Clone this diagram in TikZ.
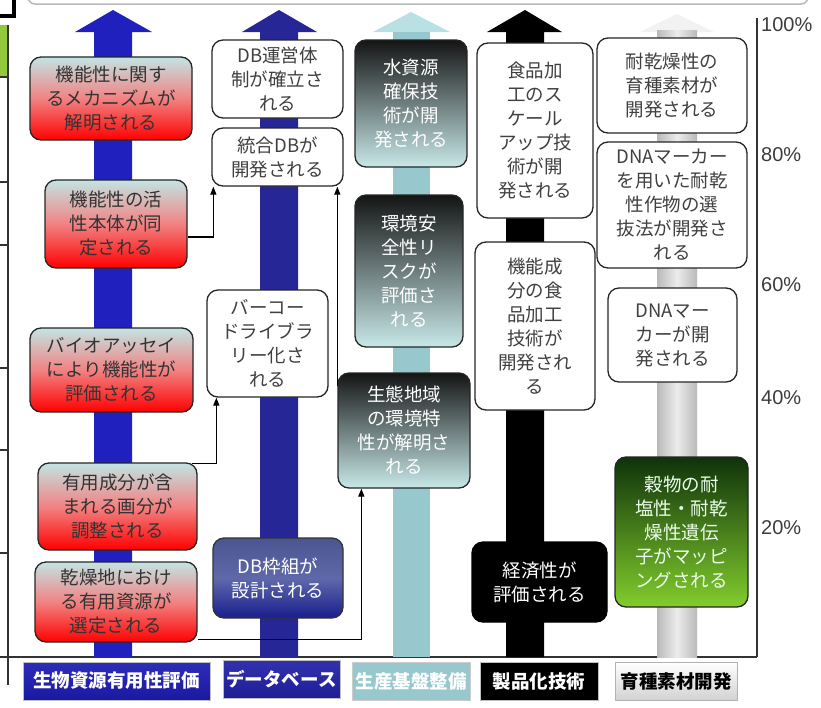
\documentclass[tikz,border=0pt]{standalone}
\usepackage{fontspec}
\newfontfamily\jp{Noto Sans CJK JP}
\newfontfamily\lsans{Liberation Sans}
\usetikzlibrary{arrows.meta}
\definecolor{bioblue}{RGB}{32,32,190}
\definecolor{dbnavy}{RGB}{38,38,150}
\definecolor{teal1}{RGB}{150,200,205}
\definecolor{tealhead}{RGB}{185,225,228}
\definecolor{lightcy}{RGB}{200,232,232}
\definecolor{redtop}{RGB}{195,228,228}
\definecolor{redmid}{RGB}{242,130,130}
\definecolor{greentop}{RGB}{15,50,10}
\definecolor{greenbot}{RGB}{130,205,45}
\definecolor{leftgreen}{RGB}{145,200,60}
\definecolor{pctgray}{RGB}{60,60,60}
\begin{document}
\begin{tikzpicture}[x=1pt,y=-1pt,
  basebox/.style={rounded corners=11pt, line width=1.3pt, align=center, inner sep=1pt,
    font=\jp\fontsize{18.5}{24}\selectfont},
  redbox/.style={basebox, draw=black!85, top color=redtop, bottom color=red, middle color=redmid, text=black!80},
  whitebox/.style={basebox, draw=black!85, fill=white, text=black!75},
  tealbox/.style={basebox, draw=black!85, top color=black!92, bottom color=lightcy, text=white},
  navybox/.style={basebox, draw=black!80, top color={rgb,255:red,75;green,85;blue,145}, bottom color={rgb,255:red,25;green,30;blue,140}, middle color={rgb,255:red,95;green,105;blue,170}, text=white},
  blackbox/.style={basebox, draw=black, fill=black, text=white},
  greenbox/.style={basebox, draw=black!85, top color=greentop, bottom color=greenbot, text=white!92!green},
  label/.style={align=center, inner sep=0pt, minimum height=38, font=\jp\bfseries\fontsize{18.5}{20}\selectfont},
  pct/.style={anchor=west, inner sep=0pt, text=pctgray, font=\lsans\fontsize{20}{22}\selectfont},
  conn/.style={draw=black, line width=1.2pt, -{Triangle[length=8pt,width=6pt]}},
  frameline/.style={draw=black!80, line width=1.2pt}
]
\useasboundingbox (0,0) rectangle (821,707);
\fill[white] (0,0) rectangle (821,707);

% top rounded strip and left decorations
\draw[gray!55, line width=1.5pt, rounded corners=7pt] (28,-30) rectangle (808,4);
\draw[black, line width=4pt] (14,0) -- (14,16) -- (0,16);
\fill[leftgreen] (0,25) rectangle (8,77);
\draw[frameline] (8,25) -- (8,685);
\foreach \yy in {77,182,245,368,450,553} \draw[frameline] (0,\yy) -- (8,\yy);
\draw[frameline] (0,657) -- (757,657);
\draw[frameline] (757,18) -- (757,657);

% big column arrows
\fill[bioblue] (94,657) -- (94,32) -- (75,32) -- (113,10) -- (152,32) -- (132,32) -- (132,657) -- cycle;
\fill[dbnavy] (260,657) -- (260,32) -- (242,32) -- (279,10) -- (317,32) -- (298,32) -- (298,657) -- cycle;
\fill[tealhead] (373,32) -- (411,12) -- (450,32) -- cycle;
\fill[teal1] (393,32) rectangle (430,657);
\fill[black] (506,657) -- (506,32) -- (487,32) -- (525,10) -- (562,32) -- (544,32) -- (544,657) -- cycle;
\fill[gray!10] (640,32) -- (677,14) -- (714,32) -- cycle;
\shade[left color=gray!55, right color=gray!55, middle color=gray!15] (657,30) rectangle (697,657);

% percent axis labels
\node[pct] (p100) at (761,25) {100\%};
\node[pct] (p80) at (761,155) {80\%};
\node[pct] (p60) at (761,285) {60\%};
\node[pct] (p40) at (761,398) {40\%};
\node[pct] (p20) at (761,528) {20\%};

% column 1
\node[redbox, minimum width=162, minimum height=83] (k1) at (111,98.5) {機能性に関す\\るメカニズムが\\解明される};
\node[redbox, minimum width=142, minimum height=88] (k2) at (116,224) {機能性の活\\性本体が同\\定される};
\node[redbox, minimum width=163, minimum height=84] (k3) at (111.5,370) {バイオアッセイ\\により機能性が\\評価される};
\node[redbox, minimum width=159, minimum height=87] (k4) at (117.5,506.5) {有用成分が含\\まれる画分が\\調整される};
\node[redbox, minimum width=162, minimum height=80] (k5) at (116,602) {乾燥地におけ\\る有用資源が\\選定される};

% column 2
\node[whitebox, minimum width=131, minimum height=78] (d1) at (277.5,79) {DB運営体\\制が確立さ\\れる};
\node[whitebox, minimum width=131, minimum height=58] (d2) at (277.5,157) {統合DBが\\開発される};
\node[whitebox, minimum width=121, minimum height=107] (d3) at (267.5,343.5) {バーコー\\ドライブラ\\リー化さ\\れる};
\node[navybox, minimum width=130, minimum height=80] (d4) at (278,578) {DB枠組が\\設計される};

% column 3
\node[tealbox, minimum width=112, minimum height=127] (s1) at (411,103.5) {水資源\\確保技\\術が開\\発される};
\node[tealbox, minimum width=108, minimum height=152] (s2) at (409,271) {環境安\\全性リ\\スクが\\評価さ\\れる};
\node[tealbox, minimum width=132, minimum height=115] (s3) at (404,430.5) {生態地域\\の環境特\\性が解明さ\\れる};

% column 4
\node[whitebox, minimum width=116, minimum height=175] (f1) at (535,130.5) {食品加\\工のス\\ケール\\アップ技\\術が開\\発される};
\node[whitebox, minimum width=120, minimum height=168] (f2) at (535,326) {機能成\\分の食\\品加工\\技術が\\開発され\\る};
\node[blackbox, minimum width=135, minimum height=80] (f3) at (539.5,582) {経済性が\\評価される};

% column 5
\node[whitebox, minimum width=150, minimum height=95] (b1) at (672,85.5) {耐乾燥性の\\育種素材が\\開発される};
\node[whitebox, minimum width=150, minimum height=126] (b2) at (672,205) {DNAマーカー\\を用いた耐乾\\性作物の選\\抜法が開発さ\\れる};
\node[whitebox, minimum width=129, minimum height=94] (b3) at (672.5,335) {DNAマー\\カーが開\\発される};
\node[greenbox, minimum width=133, minimum height=150] (b4) at (681.5,532) {穀物の耐\\塩性・耐乾\\燥性遺伝\\子がマッピ\\ングされる};

% bottom category labels
\node[label, minimum width=187, draw=gray!50, top color={rgb,255:red,45;green,45;blue,185}, bottom color={rgb,255:red,25;green,25;blue,160}, text=white] (c1) at (116.5,681) {生物資源有用性評価};
\node[label, minimum width=117, draw=gray!50, top color={rgb,255:red,50;green,50;blue,175}, bottom color={rgb,255:red,30;green,30;blue,150}, text=white] (c2) at (281.5,679) {データベース};
\node[label, minimum width=118, draw=gray!40, fill=teal1, text=white] (c3) at (411,681) {生産基盤整備};
\node[label, minimum width=118, draw=gray!50, fill=black, text=white] (c4) at (539,681) {製品化技術};
\node[label, minimum width=122, draw=gray!60, top color=white, bottom color=gray!35, text=black] (c5) at (676,681) {育種素材開発};

% connectors
\draw[conn] ([yshift=-13pt]k2.east) -| ([xshift=2pt]d2.south west);
\draw[conn] ([xshift=-6pt,yshift=-1pt]k4.north east) -| ([xshift=10pt]d3.south west);
\draw[conn] ([yshift=3pt]k5.south east) -| ([xshift=24pt]s3.south west);
\draw[conn] ([yshift=-14pt]s3.north west) -- (s3.north west |- d2.south);
\end{tikzpicture}
\end{document}
